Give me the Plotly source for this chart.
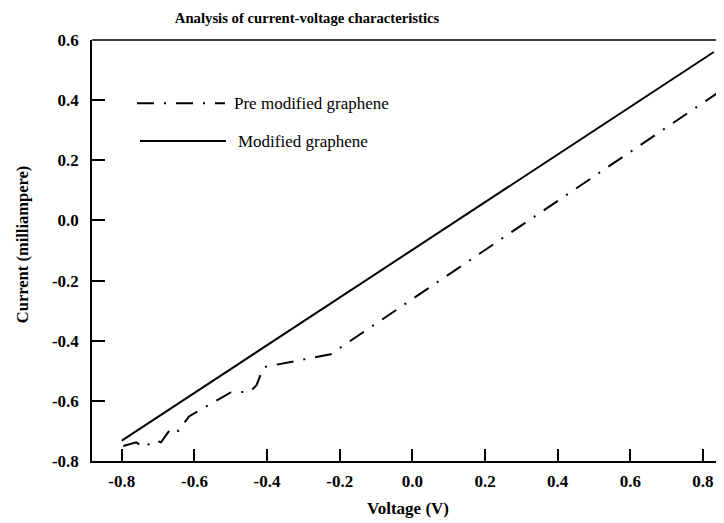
import plotly.graph_objects as go

# Data
v_mod = [-0.80, 0.83]
i_mod = [-0.732, 0.56]

v_pre = [-0.796, -0.768, -0.760, -0.741, -0.706, -0.692, -0.664, -0.644, -0.615,
         -0.500, -0.447, -0.429, -0.410, -0.225, 0.86]
i_pre = [-0.750, -0.741, -0.738, -0.754, -0.731, -0.738, -0.690, -0.700, -0.652,
         -0.572, -0.570, -0.548, -0.488, -0.445, 0.44]

x_ticks = [-0.8, -0.6, -0.4, -0.2, 0.0, 0.2, 0.4, 0.6, 0.8]
y_ticks = [-0.8, -0.6, -0.4, -0.2, 0.0, 0.2, 0.4, 0.6]

serif = "Liberation Serif, Times New Roman, serif"
dashdot = "17px,10px,2px,10px"

fig = go.Figure()
fig.add_trace(go.Scatter(x=v_pre, y=i_pre, mode="lines", name="Pre modified graphene",
                         line=dict(color="black", width=2, dash=dashdot), showlegend=False))
fig.add_trace(go.Scatter(x=v_mod, y=i_mod, mode="lines", name="Modified graphene",
                         line=dict(color="black", width=2), showlegend=False))

# manual legend
fig.add_shape(type="line", xref="paper", yref="paper", x0=0.0712, x1=0.2104, y0=0.850, y1=0.850,
              line=dict(color="black", width=2, dash=dashdot))
fig.add_shape(type="line", xref="paper", yref="paper", x0=0.076, x1=0.212, y0=0.760, y1=0.760,
              line=dict(color="black", width=2))
fig.add_annotation(xref="paper", yref="paper", x=0.2215, y=0.850, xanchor="left", yanchor="middle",
                   text="Pre modified graphene", showarrow=False,
                   font=dict(family=serif, size=17, color="black"))
fig.add_annotation(xref="paper", yref="paper", x=0.228, y=0.760, xanchor="left", yanchor="middle",
                   text="Modified graphene", showarrow=False,
                   font=dict(family=serif, size=17, color="black"))
# y-axis title
fig.add_annotation(xref="paper", yref="paper", x=-0.1108, y=0.515, xanchor="center", yanchor="middle",
                   text="<b>Current (milliampere)</b>", textangle=-90, showarrow=False,
                   font=dict(family=serif, size=16.5, color="black"))
# top border line
fig.add_shape(type="line", xref="paper", yref="paper", x0=0, x1=1, y0=1, y1=1,
              line=dict(color="black", width=1.5))

fig.update_layout(
    width=716, height=515,
    margin=dict(l=84, r=0, t=32, b=62),
    paper_bgcolor="white", plot_bgcolor="white",
    title=dict(text="<b>Analysis of current-voltage characteristics</b>",
               x=0.4177, xanchor="center", y=0.981, yanchor="middle",
               font=dict(family=serif, size=14.7, color="black")),
    xaxis=dict(range=[-0.882, 0.858], tickvals=x_ticks,
               ticktext=["<b>%.1f</b>" % t for t in x_ticks],
               ticks="inside", ticklen=12, tickcolor="black", tickwidth=1.5,
               showline=True, linecolor="black", linewidth=1.5,
               showgrid=False, zeroline=False, ticklabelstandoff=4,
               tickfont=dict(family=serif, size=17, color="black"),
               title=dict(text="<b>Voltage (V)</b>", font=dict(family=serif, size=17, color="black"),
                          standoff=12)),
    yaxis=dict(range=[-0.8, 0.6], tickvals=y_ticks,
               ticktext=["<b>%.1f</b>" % t for t in y_ticks],
               ticks="inside", ticklen=13, tickcolor="black", tickwidth=1.5,
               showline=True, linecolor="black", linewidth=1.5,
               showgrid=False, zeroline=False, ticklabelstandoff=8,
               tickfont=dict(family=serif, size=17, color="black")),
)

fig.write_html("out.html")
